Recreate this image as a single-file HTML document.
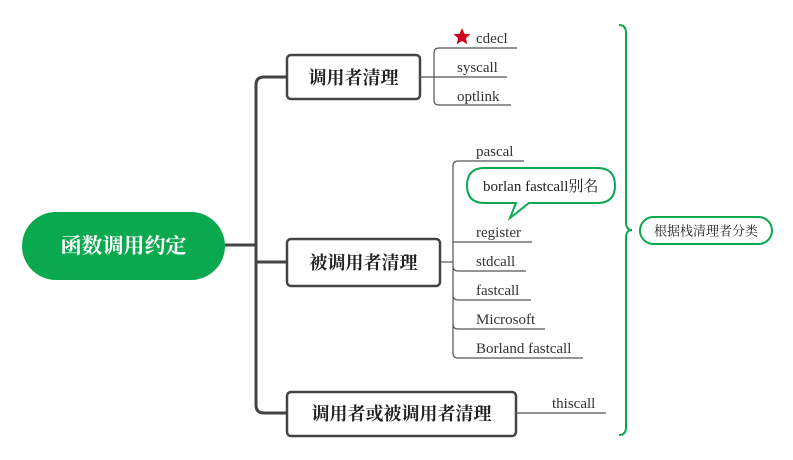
<!DOCTYPE html>
<html><head><meta charset="utf-8"><style>
html,body{margin:0;padding:0;background:#fff;}
svg{display:block}
.lf{font-family:"Liberation Serif","Noto Serif CJK SC",serif;font-size:15px;fill:#333}
.nd{font-family:"Liberation Serif","Noto Serif CJK SC",serif;font-size:18px;font-weight:bold;fill:#222}
</style></head><body>
<svg width="793" height="460" viewBox="0 0 793 460" xmlns="http://www.w3.org/2000/svg">
<g fill="none" stroke="#444" stroke-width="3">
<path d="M225 245 H256"/>
<path d="M287 77 H264 Q256 77 256 85 V405 Q256 413 264 413 H287"/>
<path d="M256 262 H287"/>
</g>
<rect x="22" y="212" width="203" height="68" rx="34" fill="#0aa84f"/>
<text x="123.5" y="253" text-anchor="middle" font-family="Liberation Serif,'Noto Serif CJK SC',serif" font-size="21" font-weight="bold" fill="#fff">函数调用约定</text>
<g fill="#fff" stroke="#444" stroke-width="2.5">
<rect x="287" y="55" width="133" height="44" rx="4"/>
<rect x="287" y="239" width="153" height="47" rx="4"/>
<rect x="287" y="392" width="229" height="44" rx="4"/>
</g>
<text class="nd" x="353.5" y="84" text-anchor="middle">调用者清理</text>
<text class="nd" x="363.5" y="269" text-anchor="middle">被调用者清理</text>
<text class="nd" x="401.5" y="420" text-anchor="middle">调用者或被调用者清理</text>
<g fill="none" stroke="#555" stroke-width="1.2">
<path d="M420 77 H507"/>
<path d="M517 48 H439 Q434 48 434 53 V100 Q434 105 439 105 H511"/>
<path d="M440 262 H453"/>
<path d="M524 161 H458 Q453 161 453 166 V353 Q453 358 458 358 H583"/>
<path d="M453 242 H532"/>
<path d="M453 266 Q453 271 458 271 H526"/>
<path d="M453 295 Q453 300 458 300 H531"/>
<path d="M453 324 Q453 329 458 329 H545"/>
<path d="M516 413 H606"/>
</g>
<polygon points="462,28 464.4,33.7 470.5,34.2 465.9,38.2 467.3,44.2 462,41 456.7,44.2 458.1,38.2 453.5,34.2 459.6,33.7" fill="#d0021b"/>
<text class="lf" x="476" y="43">cdecl</text>
<text class="lf" x="457" y="72">syscall</text>
<text class="lf" x="457" y="101">optlink</text>
<text class="lf" x="476" y="156">pascal</text>
<text class="lf" x="476" y="237">register</text>
<text class="lf" x="476" y="266">stdcall</text>
<text class="lf" x="476" y="295">fastcall</text>
<text class="lf" x="476" y="324">Microsoft</text>
<text class="lf" x="476" y="353">Borland fastcall</text>
<text class="lf" x="552" y="408">thiscall</text>
<path d="M484.5 168 H597.5 Q615 168 615 185.5 Q615 203 597.5 203 H529 L510 218 L516 203 H484.5 Q467 203 467 185.5 Q467 168 484.5 168 Z" fill="#fff" stroke="#0aa84f" stroke-width="2"/>
<text class="lf" x="483" y="191" style="fill:#222">borlan fastcall别名</text>
<path d="M619 25 Q626 25 626 33 V222 Q626 230 632 230 Q626 230 626 238 V427 Q626 435 619 435" fill="none" stroke="#0aa84f" stroke-width="2"/>
<rect x="640" y="217" width="132" height="27" rx="13.5" fill="#fff" stroke="#0aa84f" stroke-width="2"/>
<text x="706" y="235.5" text-anchor="middle" font-family="Liberation Serif,'Noto Serif CJK SC',serif" font-size="13" fill="#222">根据栈清理者分类</text>
</svg>
</body></html>
